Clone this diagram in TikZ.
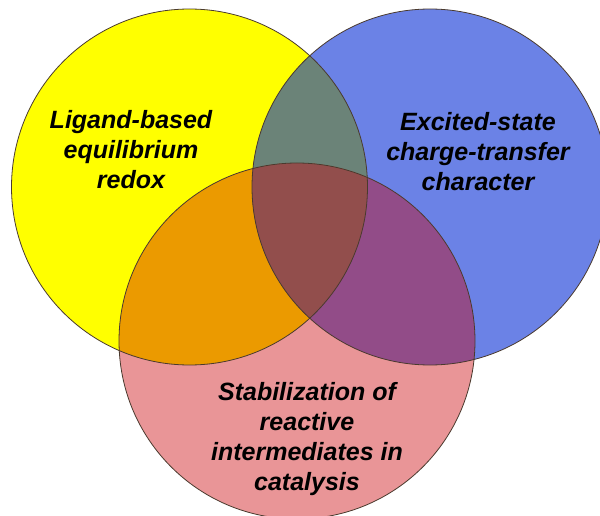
\documentclass[tikz,border=0pt]{standalone}
\usepackage{fontspec}
\setmainfont{Liberation Sans}
\definecolor{cyel}{HTML}{FFFF00}
\definecolor{cblu}{HTML}{6B82E6}
\definecolor{cpnk}{HTML}{E99597}
\definecolor{cyb}{HTML}{6B8378}
\definecolor{cyp}{HTML}{EB9A00}
\definecolor{cbp}{HTML}{924C88}
\definecolor{cybp}{HTML}{924E4C}
\definecolor{cedge}{HTML}{4A3A2E}
\tikzset{
  ringedge/.style={draw=cedge, line width=0.8pt},
  label/.style={font=\bfseries\itshape\fontsize{25}{30}\selectfont, align=center, text=black, inner sep=0pt}
}
\begin{document}
\begin{tikzpicture}[x=1pt,y=-1pt]
\useasboundingbox (0,0) rectangle (600,516);
\coordinate (Y) at (189.5,187);
\coordinate (B) at (430,187);
\coordinate (P) at (297,341);
\def\rr{178pt}
% base fills
\fill[cyel] (Y) circle[radius=\rr];
\fill[cblu] (B) circle[radius=\rr];
\begin{scope}
  \clip (Y) circle[radius=\rr];
  \fill[cyb] (B) circle[radius=\rr];
\end{scope}
\fill[cpnk] (P) circle[radius=\rr];
\begin{scope}
  \clip (P) circle[radius=\rr];
  \fill[cyp] (Y) circle[radius=\rr];
  \fill[cbp] (B) circle[radius=\rr];
  \clip (Y) circle[radius=\rr];
  \fill[cybp] (B) circle[radius=\rr];
\end{scope}
% outlines
\draw[ringedge] (Y) circle[radius=\rr];
\draw[ringedge] (B) circle[radius=\rr];
\draw[ringedge] (P) circle[radius=\rr];
% labels
\node[label] (ty) at (131,150) {Ligand-based\\equilibrium\\redox};
\node[label] (tb) at (478,152) {Excited-state\\charge-transfer\\character};
\node[label] (tp) at (307,439) {Stabilization of\\reactive\\intermediates in\\catalysis};
\end{tikzpicture}
\end{document}
